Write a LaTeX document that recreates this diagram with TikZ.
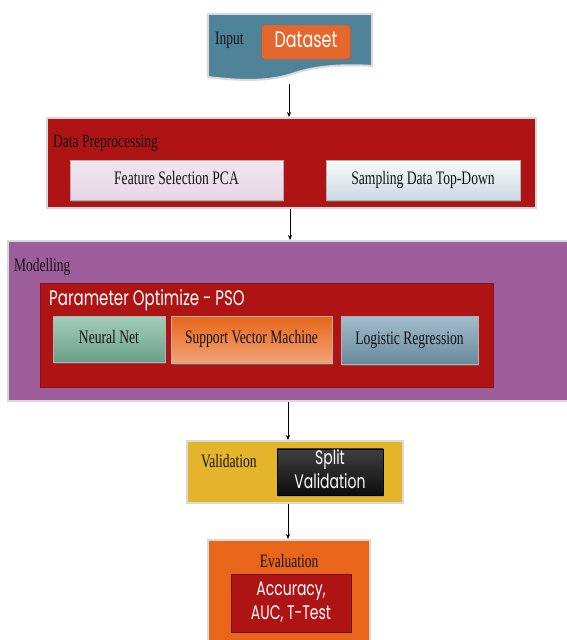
\documentclass[tikz,border=0pt]{standalone}
\usepackage{fontspec}
\setmainfont{Liberation Serif}
\newfontfamily\gothic{Poppins}
\usetikzlibrary{arrows.meta, shadows}
\definecolor{InTeal}{HTML}{4F8399}
\definecolor{DsOrange}{HTML}{E4672D}
\definecolor{StRed}{HTML}{AE1414}
\definecolor{StPurple}{HTML}{9C5D9A}
\definecolor{StYellow}{HTML}{E4B52A}
\definecolor{StOrange}{HTML}{E8651A}
\definecolor{NnGreen}{HTML}{7DBA9F}
\definecolor{LrBlue}{HTML}{7BA2B7}
\definecolor{TxtDark}{HTML}{141414}
% taller letters, as in the reference
\newcommand{\tallt}[1]{\scalebox{1}[1.4]{\begin{tabular}{@{}c@{}}#1\end{tabular}}}

\begin{document}
\begin{tikzpicture}[x=1pt, y=-1pt, >={Stealth[length=5pt, width=4pt]},
  stage/.style={draw=white!85!black, line width=2pt, inner sep=0pt},
  btn/.style={draw=black!30, line width=0.4pt, inner sep=0pt, text=TxtDark,
              font=\fontsize{13.6}{15}\selectfont,
              drop shadow={opacity=0.45, shadow xshift=0.8pt, shadow yshift=-1.5pt}},
  lbl/.style={inner sep=0pt, text=TxtDark, font=\fontsize{13.5}{15}\selectfont},
  glbl/.style={inner sep=0pt, text=white, font=\gothic\fontsize{14}{16}\selectfont},
  flow/.style={->, line width=0.6pt, black}]
  \useasboundingbox (0,0) rectangle (567,640);
  \clip (0,0) rectangle (567,640);
  \fill[white] (0,0) rectangle (567,640);

  % input
  \node[inner sep=0pt, minimum width=164, minimum height=56] (input) at (290,42) {};
  \filldraw[fill=InTeal, draw=white!85!black, line width=2pt]
    (input.north west) -- (input.north east) -- (372,66)
    .. controls (345,64) and (315,66) .. (295,73)
    .. controls (270,82) and (240,81) .. (208,77) -- cycle;
  \node[lbl, anchor=west] (inlbl) at (215,40) {\tallt{Input}};
  \node[btn, fill=DsOrange, draw=DsOrange!80!black, rounded corners=3pt,
        minimum width=89, minimum height=34, glbl, font=\gothic\fontsize{16}{18}\selectfont]
    (dataset) at (306,42) {\tallt{Dataset}};
  \coordinate (inbot) at (289,84);

  % preprocessing
  \node[stage, fill=StRed, minimum width=489, minimum height=90] (prep) at (291.5,163) {};
  \node[lbl, anchor=west] (preplbl) at (53,143) {\tallt{Data Preprocessing}};
  \node[btn, top color=white!85!StPurple, bottom color=white!75!StPurple,
        minimum width=213, minimum height=40] (feat) at (176.5,180)
    {\tallt{Feature Selection PCA}};
  \node[btn, top color=white!95!LrBlue, bottom color=white!60!LrBlue,
        minimum width=194, minimum height=40] (samp) at (423,180)
    {\tallt{Sampling Data Top-Down}};

  % modelling
  \node[stage, fill=StPurple, minimum width=563, minimum height=160] (model) at (289,321) {};
  \node[lbl, anchor=west] (modlbl) at (14,267) {\tallt{Modelling}};
  \node[fill=StRed, draw=StRed!80!black, line width=0.6pt, inner sep=0pt,
        minimum width=453, minimum height=104] (pso) at (266.5,335) {};
  \node[glbl, anchor=west, font=\gothic\fontsize{15}{17}\selectfont] (psolbl) at (49,301)
    {\tallt{Parameter Optimize - PSO}};
  \node[btn, top color=white!30!NnGreen, bottom color=NnGreen!85!black,
        minimum width=112, minimum height=46] (nn) at (109,339) {\tallt{Neural Net}};
  \node[btn, top color=StOrange, bottom color=white!40!StOrange,
        minimum width=161, minimum height=47] (svm) at (251.5,339.5)
    {\tallt{Support Vector Machine}};
  \node[btn, top color=white!30!LrBlue, bottom color=LrBlue!85!black,
        minimum width=137, minimum height=48] (lr) at (409.5,340)
    {\tallt{Logistic Regression}};

  % validation
  \node[stage, fill=StYellow, minimum width=216, minimum height=62] (valid) at (295,472) {};
  \node[lbl, anchor=west] (vallbl) at (201,463) {\tallt{Validation}};
  \node[btn, top color=black!75, bottom color=black!95, draw=black,
        minimum width=106, minimum height=42, glbl] (split) at (330,472)
    {\tallt{Split\\[1pt]Validation}};

  % evaluation
  \node[stage, fill=StOrange, minimum width=162, minimum height=116] (eval) at (289,598) {};
  \node[lbl] (evlbl) at (289,563) {\tallt{Evaluation}};
  \node[fill=StRed, draw=StRed!70!black, line width=0.8pt, inner sep=0pt,
        minimum width=120, minimum height=58, glbl] (result) at (291,603)
    {\tallt{Accuracy,\\[1pt]AUC, T-Test}};

  % flow
  \draw[flow] (inbot) -- (inbot |- prep.north);
  \draw[flow] ([xshift=-1.5pt]prep.south) -- ([xshift=-1.5pt]prep.south |- model.north);
  \draw[flow] ([xshift=-1pt]model.south) -- ([xshift=-1pt]model.south |- valid.north);
  \draw[flow] ([xshift=-7pt]valid.south) -- ([xshift=-7pt]valid.south |- eval.north);
\end{tikzpicture}
\end{document}
